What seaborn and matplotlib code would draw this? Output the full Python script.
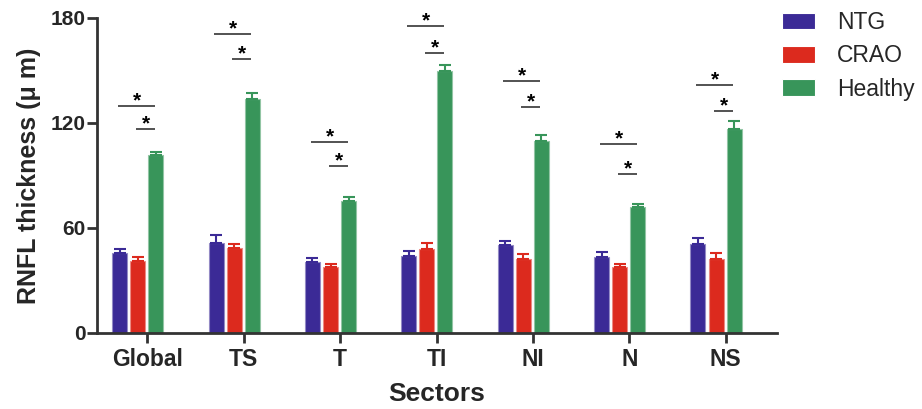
import numpy as np
import pandas as pd
import seaborn as sns
import matplotlib.pyplot as plt
from matplotlib.colors import to_rgb

# Data (mean and upper error, µm)
sectors = ['Global', 'TS', 'T', 'TI', 'NI', 'N', 'NS']
groups = ['NTG', 'CRAO', 'Healthy']
ntg_mean = [45.5, 51.3, 40.4, 44.0, 50.3, 43.6, 50.7]
ntg_err = [2.3, 4.5, 2.6, 2.9, 2.4, 2.5, 3.4]
crao_mean = [41.3, 48.4, 37.5, 48.0, 42.5, 37.5, 42.5]
crao_err = [2.0, 2.5, 2.1, 3.6, 2.5, 1.8, 3.0]
healthy_mean = [101.5, 133.7, 75.6, 149.7, 109.7, 71.8, 116.4]
healthy_err = [2.1, 3.6, 1.9, 3.6, 3.3, 2.1, 4.9]
# heights of the significance lines: NTG vs Healthy (upper), CRAO vs Healthy (lower)
sig_upper = [129.9, 170.7, 109.1, 175.3, 144.0, 108.2, 141.7]
sig_lower = [116.6, 156.7, 95.4, 160.2, 129.3, 90.7, 127.0]

colors = ['#3B2A96', '#DC2A1E', '#38955A']

means = [ntg_mean, crao_mean, healthy_mean]
errs = [ntg_err, crao_err, healthy_err]
rows = []
for g, m_list, e_list in zip(groups, means, errs):
    for s, m, e in zip(sectors, m_list, e_list):
        rows.append({'sector': s, 'group': g, 'mean': m, 'err': e})
df = pd.DataFrame(rows)

sns.set_style('ticks')
plt.rcParams['font.family'] = ['Liberation Sans', 'DejaVu Sans']

fig = plt.figure(figsize=(9.22, 4.09), dpi=100)
ax = fig.add_axes([0.105, 0.186, 0.7375, 0.770])

sns.barplot(data=df, x='sector', y='mean', hue='group', order=sectors,
            hue_order=groups, palette=colors, saturation=1, errorbar=None,
            width=0.5625, gap=0.17, linewidth=0.8, ax=ax)

# lighter bar edges and upward-only error bars
centers = {}
for cont, g, col, e_list in zip(ax.containers, groups, colors, errs):
    light = tuple(0.55 * c + 0.45 for c in to_rgb(col))
    xs, ys = [], []
    for bar in cont:
        bar.set_edgecolor(light)
        xs.append(bar.get_x() + bar.get_width() / 2)
        ys.append(bar.get_height())
    centers[g] = xs
    ax.errorbar(xs, ys, yerr=[np.zeros(len(e_list)), e_list], fmt='none',
                ecolor=col, elinewidth=1.5, capsize=4, capthick=1.5, zorder=1)

# significance lines with stars
for i in range(len(sectors)):
    xh = centers['Healthy'][i]
    for x0, y in [(centers['NTG'][i] - 0.02, sig_upper[i]),
                  (centers['CRAO'][i] - 0.02, sig_lower[i])]:
        ax.plot([x0, xh - 0.01], [y, y], color='#444444', lw=1.3,
                solid_capstyle='butt')
        ax.text((x0 + xh) / 2, y - 0.2, '*', ha='center', va='baseline',
                fontsize=15, fontweight='bold', color='black')

ax.set_xlim(-0.425, 6.63)
ax.set_ylim(0, 180)
ax.set_yticks([0, 60, 120, 180])
ax.set_xticks(np.arange(len(sectors)) + 0.1, sectors)

for sp in ['top', 'right']:
    ax.spines[sp].set_visible(False)
for sp in ['left', 'bottom']:
    ax.spines[sp].set_linewidth(2)
    ax.spines[sp].set_color('#333333')
ax.tick_params(axis='both', direction='out', length=7, width=2,
               color='#333333')
ax.tick_params(axis='y', labelsize=15, pad=1)
ax.tick_params(axis='x', labelsize=16.5, pad=4)
for lab in ax.get_xticklabels() + ax.get_yticklabels():
    lab.set_fontweight('bold')

ax.set_ylabel('RNFL thickness (\u03bc m)', fontsize=18, fontweight='bold',
              labelpad=7)
ax.set_xlabel('Sectors', fontsize=19, fontweight='bold', labelpad=8)

handles, labels = ax.get_legend_handles_labels()
ax.legend(handles, labels, loc='upper left',
          bbox_to_anchor=(782 / 922, 1 - 11 / 409), bbox_transform=fig.transFigure,
          frameon=False, fontsize=16.5, handlelength=1.45, handleheight=0.74,
          handletextpad=0.95, labelspacing=0.45, borderpad=0, borderaxespad=0)

fig.savefig('out.png', dpi=100)
